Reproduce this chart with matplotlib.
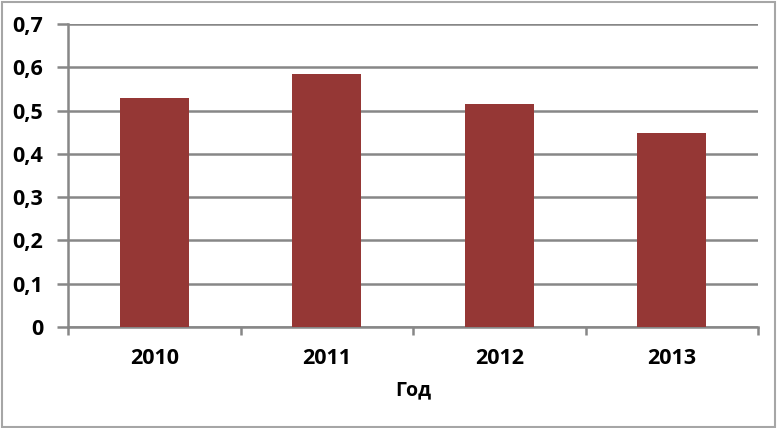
import matplotlib
matplotlib.use("Agg")
import matplotlib.pyplot as plt
from matplotlib.patches import Rectangle
from matplotlib.ticker import FixedLocator

years = ["2010", "2011", "2012", "2013"]
values = [0.529, 0.584, 0.515, 0.448]
yticks = [0.0, 0.1, 0.2, 0.3, 0.4, 0.5, 0.6, 0.7]
ytick_labels = ["0", "0,1", "0,2", "0,3", "0,4", "0,5", "0,6", "0,7"]
xlabel = "Год"

plt.rcParams['font.family'] = ['Open Sans', 'DejaVu Sans']

fig = plt.figure(figsize=(7.77, 4.28), dpi=100)
ax = fig.add_axes([68/777, 1-327/428, 690/777, 303/428])

grid_c = "#878787"
x = list(range(len(years)))
ax.bar(x, values, width=0.4, color="#953735", zorder=3)
ax.set_xlim(-0.5, len(years) - 0.5)
ax.set_ylim(0, 0.7)
ax.set_yticks(yticks)
ax.set_yticklabels(ytick_labels, fontsize=15.5, fontweight='bold')
ax.set_xticks(x)
ax.set_xticklabels(years, fontsize=15.5, fontweight='bold')
ax.xaxis.set_minor_locator(FixedLocator([i - 0.5 for i in range(len(years) + 1)]))
ax.tick_params(axis='x', which='major', length=0, pad=15)
ax.tick_params(axis='x', which='minor', length=6, width=1.8, color=grid_c)
ax.tick_params(axis='y', length=8, width=1.8, color=grid_c, pad=10)
ax.yaxis.grid(True, color=grid_c, linewidth=1.8, zorder=0)
ax.set_axisbelow(True)
for s in ['top', 'right']:
    ax.spines[s].set_visible(False)
for s in ['left', 'bottom']:
    ax.spines[s].set_color(grid_c)
    ax.spines[s].set_linewidth(1.8)
ax.set_xlabel(xlabel, fontsize=14, fontweight='bold', labelpad=8)

fig.patches.append(Rectangle((0.002, 0.003), 0.995, 0.993, transform=fig.transFigure,
                             fill=False, edgecolor="#a6a6a6", linewidth=1.5))
fig.savefig("out.png", dpi=100)
